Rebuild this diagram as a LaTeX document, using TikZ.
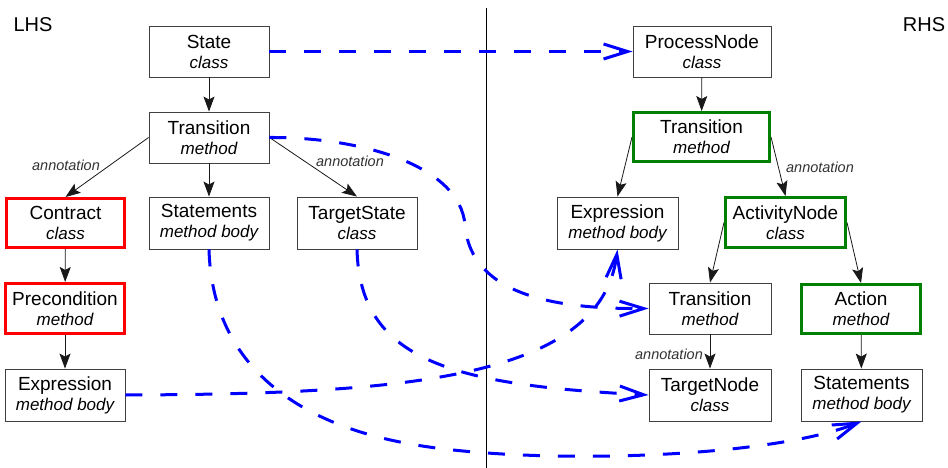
\documentclass[tikz,border=0pt]{standalone}
\usepackage{fontspec}
\setmainfont{Liberation Sans}
\usetikzlibrary{arrows.meta}
\newcommand\twoline[2]{#1\\{\fontsize{17}{20}\selectfont\itshape #2}}
\tikzset{
  box/.style={draw=black!75, line width=0.9pt, fill=white, minimum width=120pt,
    minimum height=51pt, inner sep=0pt, align=center, font=\fontsize{19}{20}\selectfont},
  redbox/.style={box, draw=red, line width=3pt, minimum width=118pt, minimum height=49pt},
  greenbox/.style={box, draw=green!50!black, line width=3pt},
  arr/.style={draw=black!90, line width=0.8pt, -{Stealth[length=15pt,width=11pt,inset=3pt]}},
  flow/.style={draw=blue, line width=3pt, dash pattern=on 17pt off 18pt,
    -{Straight Barb[length=24pt,width=15pt]}},
  ann/.style={font=\fontsize{14.5}{16}\selectfont\itshape, text=black!80, inner sep=0pt},
  side/.style={font=\fontsize{20}{22}\selectfont, inner sep=0pt}
}
\begin{document}
\begin{tikzpicture}[x=1pt,y=-1pt]
\useasboundingbox (0,0) rectangle (948,468);
\fill[white] (0,0) rectangle (948,468);
% divider
\coordinate (divtop) at (486,8);
\coordinate (divbot) at (486,468);
\draw[line width=1pt] (divtop) -- (divbot);
\node[side] (lhs) at (33,25) {LHS};
\node[side] (rhs) at (924,25) {RHS};
% LHS nodes
\node[box] (State) at (209,51.5) {\twoline{State}{class}};
\node[box] (TransL) at (209,137.5) {\twoline{Transition}{method}};
\node[redbox] (Contract) at (65.5,223) {\twoline{Contract}{class}};
\node[box, minimum height=52pt] (StmtL) at (209,223) {\twoline{Statements}{method body}};
\node[box, minimum height=52pt] (TState) at (357,223) {\twoline{TargetState}{class}};
\node[redbox, minimum width=119pt, minimum height=50pt] (Precond) at (65,308.5) {\twoline{Precondition}{method}};
\node[box, minimum height=52pt] (ExprL) at (65,395) {\twoline{Expression}{method body}};
% RHS nodes
\node[box, minimum width=138pt] (PNode) at (702,51.5) {\twoline{ProcessNode}{class}};
\node[greenbox, minimum width=136pt, minimum height=49pt] (TransR) at (701.5,137) {\twoline{Transition}{method}};
\node[box, minimum width=121pt, minimum height=52pt] (ExprR) at (617.5,223) {\twoline{Expression}{method body}};
\node[greenbox, minimum width=120pt, minimum height=50pt] (Activity) at (785.5,222.5) {\twoline{ActivityNode}{class}};
\node[box, minimum width=122pt] (TransR2) at (710,308.5) {\twoline{Transition}{method}};
\node[greenbox, minimum width=119pt, minimum height=49pt] (Action) at (861,309) {\twoline{Action}{method}};
\node[box, minimum width=122pt, minimum height=52pt] (TNode) at (710,395) {\twoline{TargetNode}{class}};
\node[box, minimum width=121pt, minimum height=52pt] (StmtR) at (861.5,395) {\twoline{Statements}{method body}};
% black arrows
\draw[arr] (State) -- (TransL);
\draw[arr] (TransL.west) -- (Contract.north) node[ann] (a1) at (66,165) {annotation};
\draw[arr] (TransL) -- (StmtL);
\draw[arr] (TransL.east) -- (TState.north) node[ann] (a2) at (350,161) {annotation};
\draw[arr] (Contract) -- (Precond);
\draw[arr] (Precond) -- (ExprL);
\draw[arr] (PNode) -- (TransR);
\draw[arr] (TransR.west) -- (ExprR.north);
\draw[arr] (TransR.east) -- (Activity.north) node[ann] (a3) at (820,167) {annotation};
\draw[arr] (Activity.west) -- (TransR2.north);
\draw[arr] (Activity.east) -- (Action.north);
\draw[arr] (TransR2) -- (TNode) node[ann] (a4) at (669,354) {annotation};
\draw[arr] (Action) -- (StmtR);
% blue mapping arrows
\draw[flow] (State.east) -- (PNode.west);
\draw[flow] (TransL.east) .. controls (360,137) and (460,165) .. (465,225)
  .. controls (471,297) and (560,309) .. (TransR2.west);
\draw[flow] (StmtL.south) .. controls (212,360) and (290,420) .. (400,442)
  .. controls (510,465) and (760,461) .. (StmtR.south);
\draw[flow] (TState.south) .. controls (360,360) and (450,385) .. (TNode.west);
\draw[flow] (ExprL.east) .. controls (400,394) and (600,380) .. (ExprR.south);
\end{tikzpicture}
\end{document}
